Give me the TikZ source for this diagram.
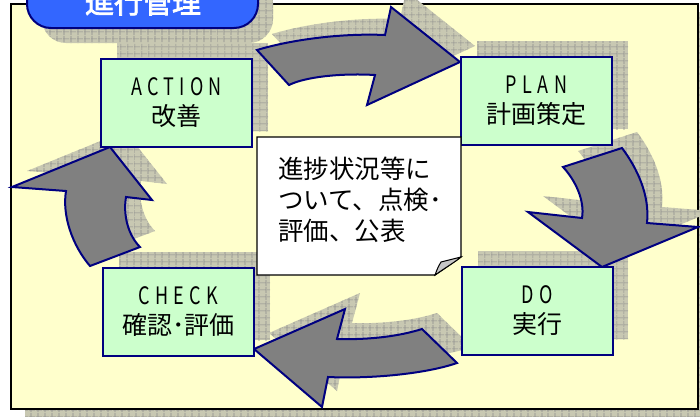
\documentclass[tikz,border=0pt]{standalone}
\usepackage{fontspec}
\newfontfamily\jp{Noto Sans CJK JP}
\newfontfamily\jplat[FakeStretch=0.75,LetterSpace=22]{Noto Sans CJK JP}
\newfontfamily\jpbold[FakeBold=2.5]{Noto Sans CJK JP}
\usetikzlibrary{patterns.meta}
\definecolor{bgy}{RGB}{255,255,204}
\definecolor{boxg}{RGB}{204,255,204}
\definecolor{navy}{RGB}{0,0,128}
\definecolor{arrg}{RGB}{128,128,128}
\definecolor{titleb}{RGB}{51,102,255}
\definecolor{shbase}{RGB}{200,200,178}
\definecolor{shgrid}{RGB}{140,140,140}
\def\arrowA{(257,50) .. controls (290,40) and (340,33) .. (385,35) -- (391,7) -- (460,62) -- (367,105) -- (375,75) .. controls (340,73) and (305,77) .. (289,85) -- cycle}
\def\arrowB{(622,148) .. controls (637,168) and (650,195) .. (647,223) -- (698,227) -- (602,267) -- (528,212) -- (582,218) .. controls (585,200) and (575,180) .. (563,167) -- cycle}
\def\arrowC{(457,363) .. controls (425,374) and (370,379) .. (328,377) -- (322,407) -- (254,349) -- (345,309) -- (337,339) .. controls (370,340) and (400,336) .. (422,329) -- cycle}
\def\arrowD{(90,266) .. controls (72,245) and (62,215) .. (66,191) -- (12,187) -- (110,147) -- (152,200) -- (126,197) .. controls (123,215) and (128,235) .. (140,247) -- cycle}
\begin{document}
\begin{tikzpicture}[x=1pt,y=-1pt,
  shadowfill/.style={fill=shbase,
    postaction={pattern={Lines[angle=0,distance=6.5pt,line width=0.6pt]}, pattern color=shgrid},
    postaction={pattern={Lines[angle=90,distance=6.5pt,line width=0.6pt]}, pattern color=shgrid}},
  blockarrow/.style={fill=arrg, draw=navy, line width=2pt, line join=miter},
  stagebox/.style={draw=navy, line width=2pt, fill=boxg, minimum width=151pt, minimum height=88pt,
    inner sep=0pt, align=center, font=\jp\fontsize{25}{30}\selectfont}]
\useasboundingbox (0,0) rectangle (700,416);
\clip (0,0) rectangle (700,416);
% frame
\path[shadowfill] (25,12) rectangle (715,428);
\draw[line width=2.5pt, fill=bgy] (11,4) rectangle (698,409);
% title shadow
\path[shadowfill, rounded corners=24pt] (42,-21) rectangle (273,43);
% box shadows
\path[shadowfill] (117,43) rectangle (268,131);
\path[shadowfill] (477,41) rectangle (628,129);
\path[shadowfill] (478,251) rectangle (628,339);
\path[shadowfill] (119,252) rectangle (270,340);
% arrow shadows
\path[shadowfill, shift={(15,-16)}] \arrowA;
\path[shadowfill, shift={(15,-16)}] \arrowB;
\path[shadowfill, shift={(15,-16)}] \arrowC;
\path[shadowfill, shift={(15,-16)}] \arrowD;
% arrows
\path[blockarrow] \arrowA;
\path[blockarrow] \arrowB;
\path[blockarrow] \arrowC;
\path[blockarrow] \arrowD;
% stage boxes
\node[stagebox] (action) at (176.5,103) {{\jplat\fontsize{24}{30}\selectfont ACTION}\\改善};
\node[stagebox] (plan) at (536.5,101) {{\jplat\fontsize{24}{30}\selectfont PLAN}\\計画策定};
\node[stagebox] (do) at (537,311) {{\jplat\fontsize{24}{30}\selectfont DO}\\実行};
\node[stagebox] (check) at (178.5,312) {{\jplat\fontsize{24}{30}\selectfont CHECK}\\確認･評価};
% note
\draw[fill=white, line width=1.3pt] (257,137) -- (461,137) -- (461,257) -- (435,275) -- (257,275) -- cycle;
\draw[fill=gray!45, line width=1pt] (461,257) -- (441,262) .. controls (438,267) .. (435,275) .. controls (445,268) and (455,262) .. (461,257) -- cycle;
\node[anchor=west, inner sep=0pt, align=left, font=\jp\fontsize{25.5}{31}\selectfont] (notetext) at (278,200) {進捗状況等に\\ついて、点検･\\評価、公表};
% title
\draw[fill=titleb, draw=navy, line width=2pt, rounded corners=24pt] (27,-35) rectangle (258,28);
\node[text=white, inner sep=0pt, font=\jpbold\fontsize{29}{30}\selectfont] (title) at (143,2) {進行管理};
\end{tikzpicture}
\end{document}
